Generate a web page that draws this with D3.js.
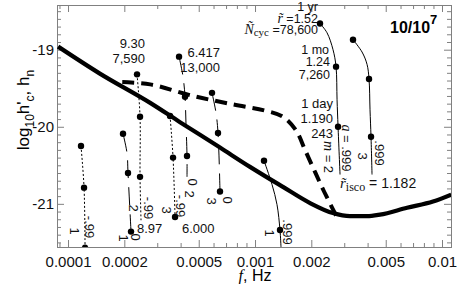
<!DOCTYPE html>
<html>
<head>
<meta charset="utf-8">
<title>10/10^7 inspiral tracks</title>
<script src="https://d3js.org/d3.v7.min.js"></script>
<style>
  body { margin: 0; background: #fff; }
  svg { font-family: "Liberation Sans", Arial, sans-serif; }
  .frame { fill: none; stroke: #808080; stroke-width: 1; }
  .axis path { display: none; }
  .axis line { stroke: #808080; }
  .axis text { font-size: 15px; fill: #111; }
  .note { font-size: 13px; fill: #111; }
  .tight { font-size: 12.5px; }
  .serif { font-family: "Liberation Serif", "Times New Roman", serif; font-style: italic; }
</style>
</head>
<body>
<svg id="chart" width="457" height="284"></svg>
<script>
// noise curve h_n (solid heavy line)
const noiseF = [0.0000885, 0.000148, 0.000275, 0.000397, 0.00065, 0.00094, 0.00141, 0.00197, 0.00261, 0.00322, 0.00397, 0.00466, 0.0065, 0.00895, 0.0112];
const noiseH = [-18.96, -19.31, -19.69, -19.94, -20.27, -20.52, -20.78, -20.99, -21.12, -21.16, -21.16, -21.14, -21.05, -20.97, -20.88];

// heavy dashed curve
const dashF = [0.000195, 0.000275, 0.000466, 0.000762, 0.00113, 0.00141, 0.00166, 0.00185, 0.00207, 0.00234, 0.00275];
const dashH = [-19.42, -19.45, -19.60, -19.71, -19.79, -19.87, -20.05, -20.30, -20.56, -20.84, -21.18];

// thin tracks: spin a, harmonic m, points and which points carry a dot
const trackSpin = ["-.99", "-.99", "-.99", "0", "0", "0", ".999", ".999", ".999"];
const trackM = [1, 2, 3, 1, 2, 3, 1, 2, 3];
const trackF = [
  [0.0001173, 0.0001218, 0.0001233],
  [0.0002339, 0.0002427, 0.0002427, 0.0002458],
  [0.0003512, 0.0003644, 0.0003735],
  [0.0001968, 0.0002067, 0.0002093, 0.0002172],
  [0.0003924, 0.0004121, 0.0004223, 0.0004275, 0.0004328, 0.0004328],
  [0.0005888, 0.0006186, 0.000634, 0.0006497],
  [0.001117, 0.001233, 0.001311, 0.00136, 0.001377],
  [0.002226, 0.002427, 0.002613, 0.002712, 0.002746, 0.00278, 0.002849],
  [0.003342, 0.003735, 0.003972, 0.004071, 0.004121, 0.004172, 0.004224]
];
const trackH = [
  [-20.25, -20.79, -21.57],
  [-19.32, -19.87, -20.65, -21.23],
  [-19.86, -20.40, -21.17],
  [-20.09, -20.34, -20.60, -21.36],
  [-19.09, -19.35, -19.61, -19.97, -20.38, -20.65],
  [-19.56, -19.82, -20.08, -20.84],
  [-20.44, -20.75, -21.01, -21.34, -21.56],
  [-18.66, -18.78, -19.00, -19.22, -19.65, -20.00, -20.62],
  [-18.87, -19.03, -19.19, -19.38, -19.78, -20.13, -20.62]
];
const trackDots = [[0, 1, 2], [0, 1, 2], [0, 1, 2], [0, 2, 3], [0, 2, 4], [0, 2, 3], [0, 3], [0, 3, 5], [0, 3, 5]];

// axis ticks
const xMajor = [0.0001, 0.0002, 0.0005, 0.001, 0.002, 0.005, 0.01];
const xLabels = ["0.0001", "0.0002", "0.0005", "0.001", "0.002", "0.005", "0.01"];
const yMajor = [-19, -20, -21];
const yLabels = ["-19", "-20", "-21"];

const svg = d3.select("#chart");
const pLeft = 57, pRight = 451, pTop = 5, pBottom = 247;

const x = d3.scaleLog().domain([0.0000873, 0.01117]).range([pLeft, pRight]);
const y = d3.scaleLinear().domain([-21.56, -18.42]).range([pBottom, pTop]);

svg.append("clipPath").attr("id", "plot")
  .append("rect").attr("x", pLeft).attr("y", pTop)
  .attr("width", pRight - pLeft).attr("height", pBottom - pTop);

// minor tick values
const xMinor = [];
for (let e = -5; e <= -2; e++) {
  for (let k = 1; k < 10; k++) {
    const v = +(k * Math.pow(10, e)).toPrecision(3);
    if (v >= x.domain()[0] && v <= x.domain()[1] && xMajor.indexOf(v) < 0) xMinor.push(v);
  }
}
const yMinor = d3.range(-215, -184).map(d => d / 10).filter(d => yMajor.indexOf(d) < 0);

function addAxis(axis, tx, ty, values, size, fmt) {
  svg.append("g").attr("class", "axis")
    .attr("transform", "translate(" + tx + "," + ty + ")")
    .call(axis.tickValues(values).tickSize(size).tickFormat(fmt || (() => "")));
}
addAxis(d3.axisBottom(x).tickPadding(9), 0, pBottom, xMajor, -7, (d, i) => xLabels[i]);
addAxis(d3.axisBottom(x), 0, pBottom, xMinor, -4);
addAxis(d3.axisTop(x), 0, pTop, xMajor, -7);
addAxis(d3.axisTop(x), 0, pTop, xMinor, -4);
addAxis(d3.axisLeft(y).tickPadding(3), pLeft, 0, yMajor, -7, (d, i) => yLabels[i]);
addAxis(d3.axisLeft(y), pLeft, 0, yMinor, -4);
addAxis(d3.axisRight(y), pRight, 0, yMajor, -7);
addAxis(d3.axisRight(y), pRight, 0, yMinor, -4);

svg.append("rect").attr("class", "frame")
  .attr("x", pLeft + 0.5).attr("y", pTop + 0.5)
  .attr("width", pRight - pLeft).attr("height", pBottom - pTop);

const plot = svg.append("g").attr("clip-path", "url(#plot)");

const line = d3.line().x(d => x(d[0])).y(d => y(d[1])).curve(d3.curveMonotoneX);
const trackLine = d3.line().x(d => x(d[0])).y(d => y(d[1])).curve(d3.curveCatmullRom);

plot.append("path")
  .datum(noiseF.map((f, i) => [f, noiseH[i]]))
  .attr("d", line)
  .attr("fill", "none").attr("stroke", "#000").attr("stroke-width", 4.2);

plot.append("path")
  .datum(dashF.map((f, i) => [f, dashH[i]]))
  .attr("d", trackLine)
  .attr("fill", "none").attr("stroke", "#000").attr("stroke-width", 4)
  .attr("stroke-dasharray", "12,7");

const dashFor = { "-.99": "2,2", "0": "18,9", ".999": null };
trackF.forEach((fs, t) => {
  const pts = fs.map((f, i) => [f, trackH[t][i]]);
  plot.append("path")
    .datum(pts)
    .attr("d", trackLine)
    .attr("fill", "none").attr("stroke", "#000").attr("stroke-width", 1)
    .attr("stroke-dasharray", dashFor[trackSpin[t]]);
  plot.selectAll(null)
    .data(trackDots[t].map(i => pts[i]))
    .enter().append("circle")
      .attr("cx", d => x(d[0]))
      .attr("cy", d => y(d[1]))
      .attr("r", 3.2)
      .attr("fill", "#000");
});

// plain annotations
function note(txt, px, py, anchor) {
  return svg.append("text").attr("class", "note")
    .attr("x", px).attr("y", py)
    .attr("text-anchor", anchor || "start")
    .text(txt);
}
note("9.30", 145, 48, "end");
note("7,590", 145, 63, "end");
note("6.417", 220, 57, "end");
note("13,000", 220, 72, "end");
note("8.97", 137, 233);
note("6.000", 182, 233);
note("1 yr", 318, 11, "end").classed("tight", true);
note("1 mo", 329, 54, "end").classed("tight", true);
note("1.24", 330, 66, "end").classed("tight", true);
note("7,260", 330, 79, "end").classed("tight", true);
note("1 day", 333, 108, "end");
note("1.190", 333, 123, "end");
note("243", 333, 138, "end");

const rt = svg.append("text").attr("class", "note tight").attr("x", 318).attr("y", 22.5).attr("text-anchor", "end");
rt.append("tspan").attr("class", "serif").style("font-size", "14px").text("r\u0303");
rt.append("tspan").text(" =1.52");
const nt = svg.append("text").attr("class", "note tight").attr("x", 318).attr("y", 34).attr("text-anchor", "end");
nt.append("tspan").attr("class", "serif").style("font-size", "14px").text("\u00d1");
nt.append("tspan").style("font-family", "Liberation Serif").style("font-size", "11px").attr("dy", 2).text("cyc");
nt.append("tspan").attr("dy", -2).text(" =78,600");

const it = svg.append("text").attr("class", "note").attr("x", 340).attr("y", 188).style("font-size", "14px");
it.append("tspan").attr("class", "serif").style("font-size", "15px").text("r\u0303");
it.append("tspan").style("font-family", "Liberation Serif").style("font-size", "12px").attr("dy", 3).text("isco");
it.append("tspan").attr("dy", -3).text(" = 1.182");

const bt = svg.append("text").attr("x", 390).attr("y", 33)
  .style("font-size", "16px").style("font-weight", "bold").text("10/10");
bt.append("tspan").attr("dy", -9).style("font-size", "13px").text("7");

// rotated track labels (m on the left, a on the right of each track end)
const rotLabels = [
  ["1", 75, 231], ["-.99", 90, 227],
  ["1", 124, 238], ["0", 136, 237],
  ["2", 134, 208], ["-.99", 149, 208],
  ["3", 167, 210], ["-.99", 181, 206],
  ["0", 193, 182], ["2", 190, 194],
  ["3", 212, 201], ["0", 228, 200],
  ["1", 270, 233], [".999", 288, 232],
  ["3", 363, 156], [".999", 380, 153]
];
rotLabels.forEach(l => {
  svg.append("text").attr("class", "note")
    .attr("transform", "translate(" + l[1] + "," + l[2] + ") rotate(90)")
    .attr("text-anchor", "middle").attr("dy", "0.35em")
    .text(l[0]);
});
const mLab = svg.append("text").attr("class", "note")
  .attr("transform", "translate(329,157) rotate(90)")
  .attr("text-anchor", "middle").attr("dy", "0.35em");
mLab.append("tspan").attr("class", "serif").style("font-size", "14px").text("m");
mLab.append("tspan").text(" = 2");
const aLab = svg.append("text").attr("class", "note")
  .attr("transform", "translate(347,148) rotate(90)")
  .attr("text-anchor", "middle").attr("dy", "0.35em");
aLab.append("tspan").attr("class", "serif").style("font-size", "14px").text("a");
aLab.append("tspan").text(" = .999");

// axis titles
const xt = svg.append("text").attr("x", 255).attr("y", 281)
  .attr("text-anchor", "middle").style("font-size", "16px");
xt.append("tspan").attr("class", "serif").text("f");
xt.append("tspan").text(", Hz");

const yt = svg.append("text")
  .attr("transform", "translate(29,110) rotate(-90)")
  .attr("text-anchor", "middle").style("font-size", "17px");
yt.append("tspan").text("log");
yt.append("tspan").attr("dy", 5).style("font-size", "12px").text("10");
yt.append("tspan").attr("dy", -5).text("h'");
yt.append("tspan").attr("dy", 5).style("font-size", "12px").text("c");
yt.append("tspan").attr("dy", -5).text(", h");
yt.append("tspan").attr("dy", 5).style("font-size", "12px").text("n");
</script>
</body>
</html>
